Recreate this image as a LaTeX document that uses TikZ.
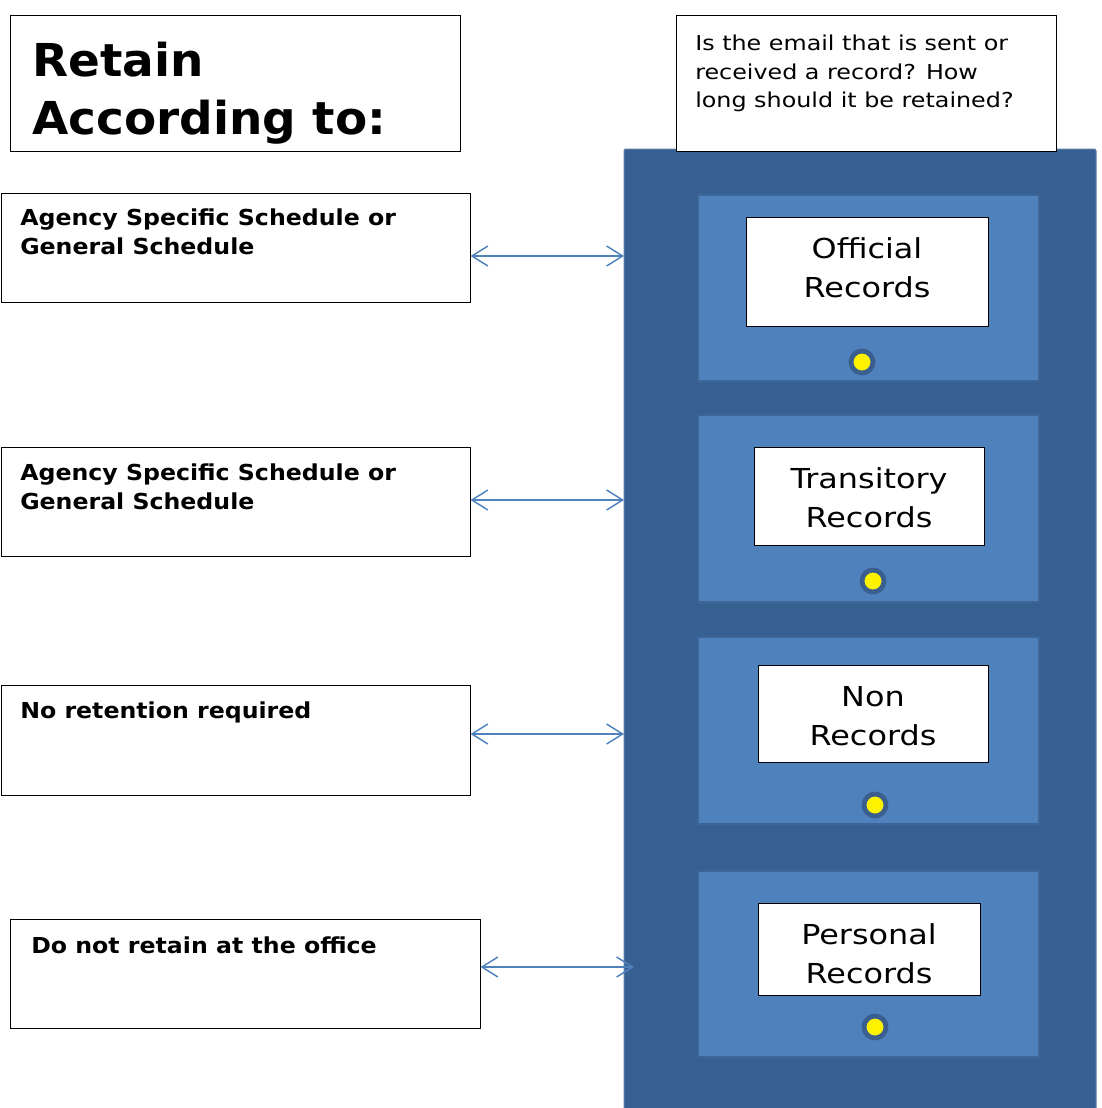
\documentclass[tikz,border=0pt]{standalone}
\usepackage{fontspec}
\setmainfont{DejaVu Sans}
\newfontfamily\widefont[FakeStretch=1.16]{DejaVu Sans}
\newfontfamily\boldwide[FakeStretch=1.075]{DejaVu Sans Bold}
\newfontfamily\titlefont[FakeStretch=1.035]{DejaVu Sans Bold}
\usetikzlibrary{positioning,fit,arrows.meta}
\definecolor{cabblue}{HTML}{366092}
\definecolor{drawblue}{HTML}{4F81BD}
\definecolor{drawedge}{HTML}{3D6597}
\definecolor{knobring}{HTML}{3A5F8E}

\begin{document}
\begin{tikzpicture}[x=0.75pt,y=-0.75pt,
	box/.style={draw,line width=0.75pt,fill=white,inner sep=0pt},
	boxtext/.style={anchor=north west,inner sep=0pt,align=left,font=\fontsize{16.5}{21.75}\boldwide},
	drawer/.style={draw=drawedge,line width=1.5pt,fill=drawblue,inner sep=0pt},
	tagtext/.style={inner sep=0pt,align=center,font=\fontsize{20.6}{29.25}\widefont},
	knob/.style={draw=knobring,line width=3.6pt,fill=yellow,shape=circle,minimum size=16.5pt,inner sep=0pt},
	link/.style={draw=drawblue,line width=1.1pt,{Straight Barb[length=12pt,width=15pt]}-{Straight Barb[length=12pt,width=15pt]}}]
	\useasboundingbox (0,0) rectangle (1102,1108);

	% cabinet
	\node[fill=cabblue,draw=cabblue!80!white,line width=0.75pt,rounded corners=1.5pt,inner sep=0pt,fit={(624,149)(1096,1110)}] (cab) {};
	\node[drawer,fit={(698,195)(1039,381)}] (d1) {};
	\node[drawer,fit={(698,415)(1039,602)}] (d2) {};
	\node[drawer,fit={(698,637)(1039,824)}] (d3) {};
	\node[drawer,fit={(698,871)(1039,1057)}] (d4) {};
	\node[box,fit={(746,217)(988,326)}] (r1) {};
	\node[box,fit={(754,447)(984,545)}] (r2) {};
	\node[box,fit={(758,665)(988,762)}] (r3) {};
	\node[box,fit={(758,903)(980,995)}] (r4) {};
	\path (r1.center) ++(0,-4) node[tagtext] (n1) {Official\\Records};
	\path (r2.center) ++(0,2) node[tagtext] (n2) {Transitory\\Records};
	\path (r3.center) ++(0,3) node[tagtext] (n3) {Non\\Records};
	\path (r4.center) ++(0,5) node[tagtext] (n4) {Personal\\Records};
	\node[knob] (k1) at (862,362) {};
	\node[knob] (k2) at (873,581) {};
	\node[knob] (k3) at (875,805) {};
	\node[knob] (k4) at (875,1027) {};

	% headings
	\node[box,fit={(10,15)(460,151)}] (head) {};
	\node[anchor=north west,inner sep=0pt,align=left,font=\fontsize{34}{43.5}\titlefont] (htext) at (32,42) {Retain\\According to:};
	\node[box,fit={(676,15)(1056,151)}] (quest) {};
	\node[anchor=north west,inner sep=0pt,align=left,font=\fontsize{15.4}{21.4}\widefont] (qtext) at (695,35) {Is the email that is sent or\\received a record? How\\long should it be retained?};

	% schedules
	\node[box,fit={(1,193)(470,302)}] (s1) {};
	\node[boxtext] (t1) at (20,209) {Agency Specific Schedule or\\General Schedule};
	\node[box,fit={(1,447)(470,556)}] (s2) {};
	\node[boxtext] (t2) at (20,464) {Agency Specific Schedule or\\General Schedule};
	\node[box,fit={(1,685)(470,795)}] (s3) {};
	\node[boxtext] (t3) at (20,702) {No retention required};
	\node[box,fit={(10,919)(480,1028)}] (s4) {};
	\node[boxtext] (t4) at (31,937) {Do not retain at the office};

	% arrows
	\coordinate (e1) at (624,256);
	\coordinate (e2) at (624,500);
	\coordinate (e3) at (624,734);
	\coordinate (e4) at (634,967);
	\draw[link] (s1.east |- e1) to (e1);
	\draw[link] (s2.east |- e2) to (e2);
	\draw[link] (s3.east |- e3) to (e3);
	\draw[link] (s4.east |- e4) to (e4);
\end{tikzpicture}
\end{document}
